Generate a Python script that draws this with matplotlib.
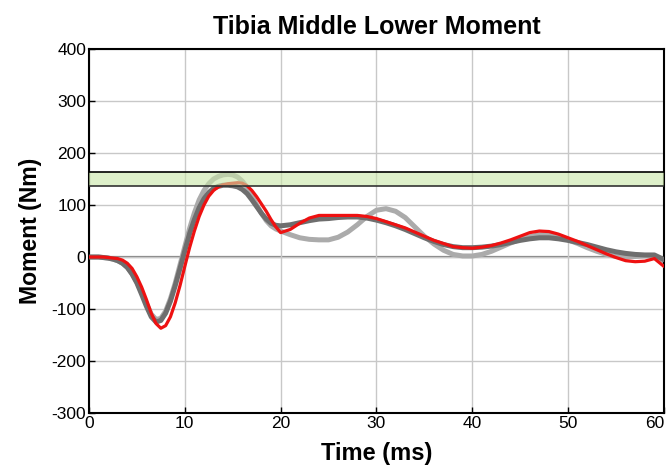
import numpy as np
import matplotlib.pyplot as plt
from matplotlib.patches import Rectangle

# time base: 0.5 ms steps through the first impact peak, 1 ms after that
time_ms = np.concatenate([np.arange(0, 20, 0.5), np.arange(20, 61, 1)])

moment_red = [
    0, 0, 0, 0, -1, -2, -3, -6, -12, -22,
    -38, -58, -82, -108, -128, -137, -132, -115, -88, -55,
    -18, 18, 50, 78, 100, 117, 128, 135, 139, 141,
    142, 143, 142, 137, 128, 116, 102, 88, 72, 58,
    47, 53, 65, 75, 80, 80, 80, 80, 80, 78,
    74, 68, 62, 56, 48, 40, 32, 26, 20, 18,
    17, 19, 22, 27, 33, 40, 47, 50, 49, 44,
    37, 30, 22, 14, 6, -1, -7, -9, -8, -3,
    -18,
]

moment_dark = [
    0, 0, 0, -1, -2, -4, -7, -12, -20, -33,
    -50, -72, -95, -115, -125, -122, -108, -85, -55, -22,
    12, 45, 72, 95, 112, 124, 132, 136, 138, 138,
    137, 135, 130, 122, 110, 97, 84, 73, 65, 61,
    60, 62, 66, 70, 73, 74, 76, 77, 77, 75,
    71, 66, 60, 53, 45, 37, 30, 24, 20, 18,
    18, 19, 21, 24, 28, 32, 35, 37, 37, 35,
    32, 28, 24, 19, 14, 10, 7, 5, 4, 4,
    -5,
]

moment_light = [
    0, 0, 0, -1, -2, -4, -7, -12, -20, -32,
    -48, -68, -90, -110, -120, -118, -104, -80, -50, -15,
    20, 55, 85, 110, 128, 141, 150, 155, 158, 159,
    158, 154, 146, 134, 118, 100, 84, 70, 60, 54,
    50, 43, 37, 34, 33, 33, 38, 48, 62, 78,
    90, 93, 88, 76, 58, 40, 25, 13, 5, 2,
    2, 5, 11, 19, 27, 34, 39, 43, 44, 40,
    33, 26, 18, 11, 5, 1, 0, 1, 2, 2,
    -8,
]

# acceptance band
band_low, band_high = 136, 163

x_ticks = [0, 10, 20, 30, 40, 50, 60]
y_ticks = [-300, -200, -100, 0, 100, 200, 300, 400]

plt.rcParams['font.family'] = ['Liberation Sans', 'DejaVu Sans']
plt.rcParams['axes.unicode_minus'] = False

fig = plt.figure(figsize=(6.67, 4.69), dpi=100)
ax = fig.add_axes([0.1334, 0.1194, 0.862, 0.776])

ax.grid(True, color='#c8c8c8', linewidth=1.0, zorder=0)
ax.axhline(0, color='#808080', linewidth=1.6, zorder=1)

ax.plot(time_ms, moment_light, color='#ababab', linewidth=3.6, zorder=2, solid_capstyle='round')
ax.plot(time_ms, moment_dark, color='#6e6e6e', linewidth=3.6, zorder=3, solid_capstyle='round')
ax.plot(time_ms, moment_red, color='#ee1111', linewidth=2.3, zorder=4, solid_capstyle='round')

ax.add_patch(Rectangle((0, band_low), 61, band_high - band_low,
                       facecolor='#c9e6a8', alpha=0.6, edgecolor='none', zorder=5))
ax.axhline(band_high, color='black', linewidth=1.2, zorder=6)
ax.axhline(band_low, color='#333333', linewidth=1.2, zorder=6)

ax.set_xlim(0, 60)
ax.set_ylim(-300, 400)
ax.set_xticks(x_ticks)
ax.set_yticks(y_ticks)
ax.tick_params(direction='in', length=4, width=1, labelsize=12.5, pad=2)
ax.get_xticklabels()[-1].set_horizontalalignment('right')
for s in ax.spines.values():
    s.set_linewidth(1.5)

ax.set_title('Tibia Middle Lower Moment', fontsize=18, fontweight='bold', pad=11)
ax.set_xlabel('Time (ms)', fontsize=17, fontweight='bold', labelpad=8)
ax.set_ylabel('Moment (Nm)', fontsize=16.6, fontweight='bold', labelpad=7)

fig.savefig('out.png', dpi=100)
